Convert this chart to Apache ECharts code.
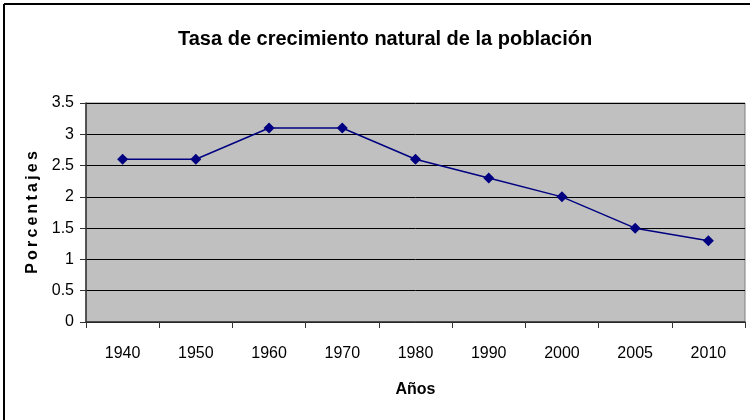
<!DOCTYPE html>
<html>
<head>
<meta charset="utf-8">
<script src="https://cdn.jsdelivr.net/npm/echarts@6/dist/echarts.min.js"></script>
<style>
  html, body { margin: 0; padding: 0; background: #fff; }
  #chart { width: 750px; height: 420px; }
</style>
</head>
<body>
<div id="chart"></div>
<script>
var years = ["1940", "1950", "1960", "1970", "1980", "1990", "2000", "2005", "2010"];
var tasa = [2.6, 2.6, 3.1, 3.1, 2.6, 2.3, 2.0, 1.5, 1.3];

var myChart = echarts.init(document.getElementById("chart"));
var font = "Liberation Sans, Arial, sans-serif";

myChart.setOption({
  backgroundColor: "#fff",
  animation: false,
  title: {
    text: "Tasa de crecimiento natural de la población",
    left: 173,
    top: 24,
    textStyle: { fontFamily: font, fontSize: 20, fontWeight: "bold", color: "#000" }
  },
  // marco del gráfico (solo arriba e izquierda)
  graphic: [
    { type: "line", shape: { x1: 4, y1: 4, x2: 750, y2: 4 }, style: { stroke: "#000", lineWidth: 2 } },
    { type: "line", shape: { x1: 4, y1: 4, x2: 4, y2: 420 }, style: { stroke: "#000", lineWidth: 2 } }
  ],
  grid: {
    left: 86,
    right: 5,
    top: 103,
    bottom: 98,
    show: true,
    backgroundColor: "#c0c0c0",
    borderColor: "#808080",
    borderWidth: 1
  },
  xAxis: {
    type: "category",
    data: years,
    boundaryGap: true,
    name: "Años",
    nameLocation: "middle",
    nameGap: 60,
    nameTextStyle: { fontFamily: font, fontSize: 16, fontWeight: "bold", color: "#000" },
    axisLine: { lineStyle: { color: "#333", width: 1.5 } },
    axisTick: { show: true, length: 6, alignWithLabel: false, lineStyle: { color: "#333" } },
    axisLabel: { fontFamily: font, fontSize: 16, color: "#000", margin: 24 },
    splitLine: { show: false }
  },
  yAxis: {
    type: "value",
    min: 0,
    max: 3.5,
    interval: 0.5,
    name: "P\u2009o\u2009r\u2009c\u2009e\u2009n\u2009t\u2009a\u2009j\u2009e\u2009s",
    nameLocation: "middle",
    nameGap: 43,
    nameTextStyle: { fontFamily: font, fontSize: 16, fontWeight: "bold", color: "#000" },
    axisLine: { show: true, lineStyle: { color: "#333", width: 1.5 } },
    axisTick: { show: true, length: 6, lineStyle: { color: "#333" } },
    axisLabel: { fontFamily: font, fontSize: 16, color: "#000", margin: 12 },
    splitLine: { show: true, lineStyle: { color: "#000", width: 1 } }
  },
  series: [
    {
      type: "line",
      data: tasa,
      symbol: "diamond",
      symbolSize: 11,
      itemStyle: { color: "#000080" },
      lineStyle: { color: "#000080", width: 1.5 }
    }
  ]
});
</script>
</body>
</html>
